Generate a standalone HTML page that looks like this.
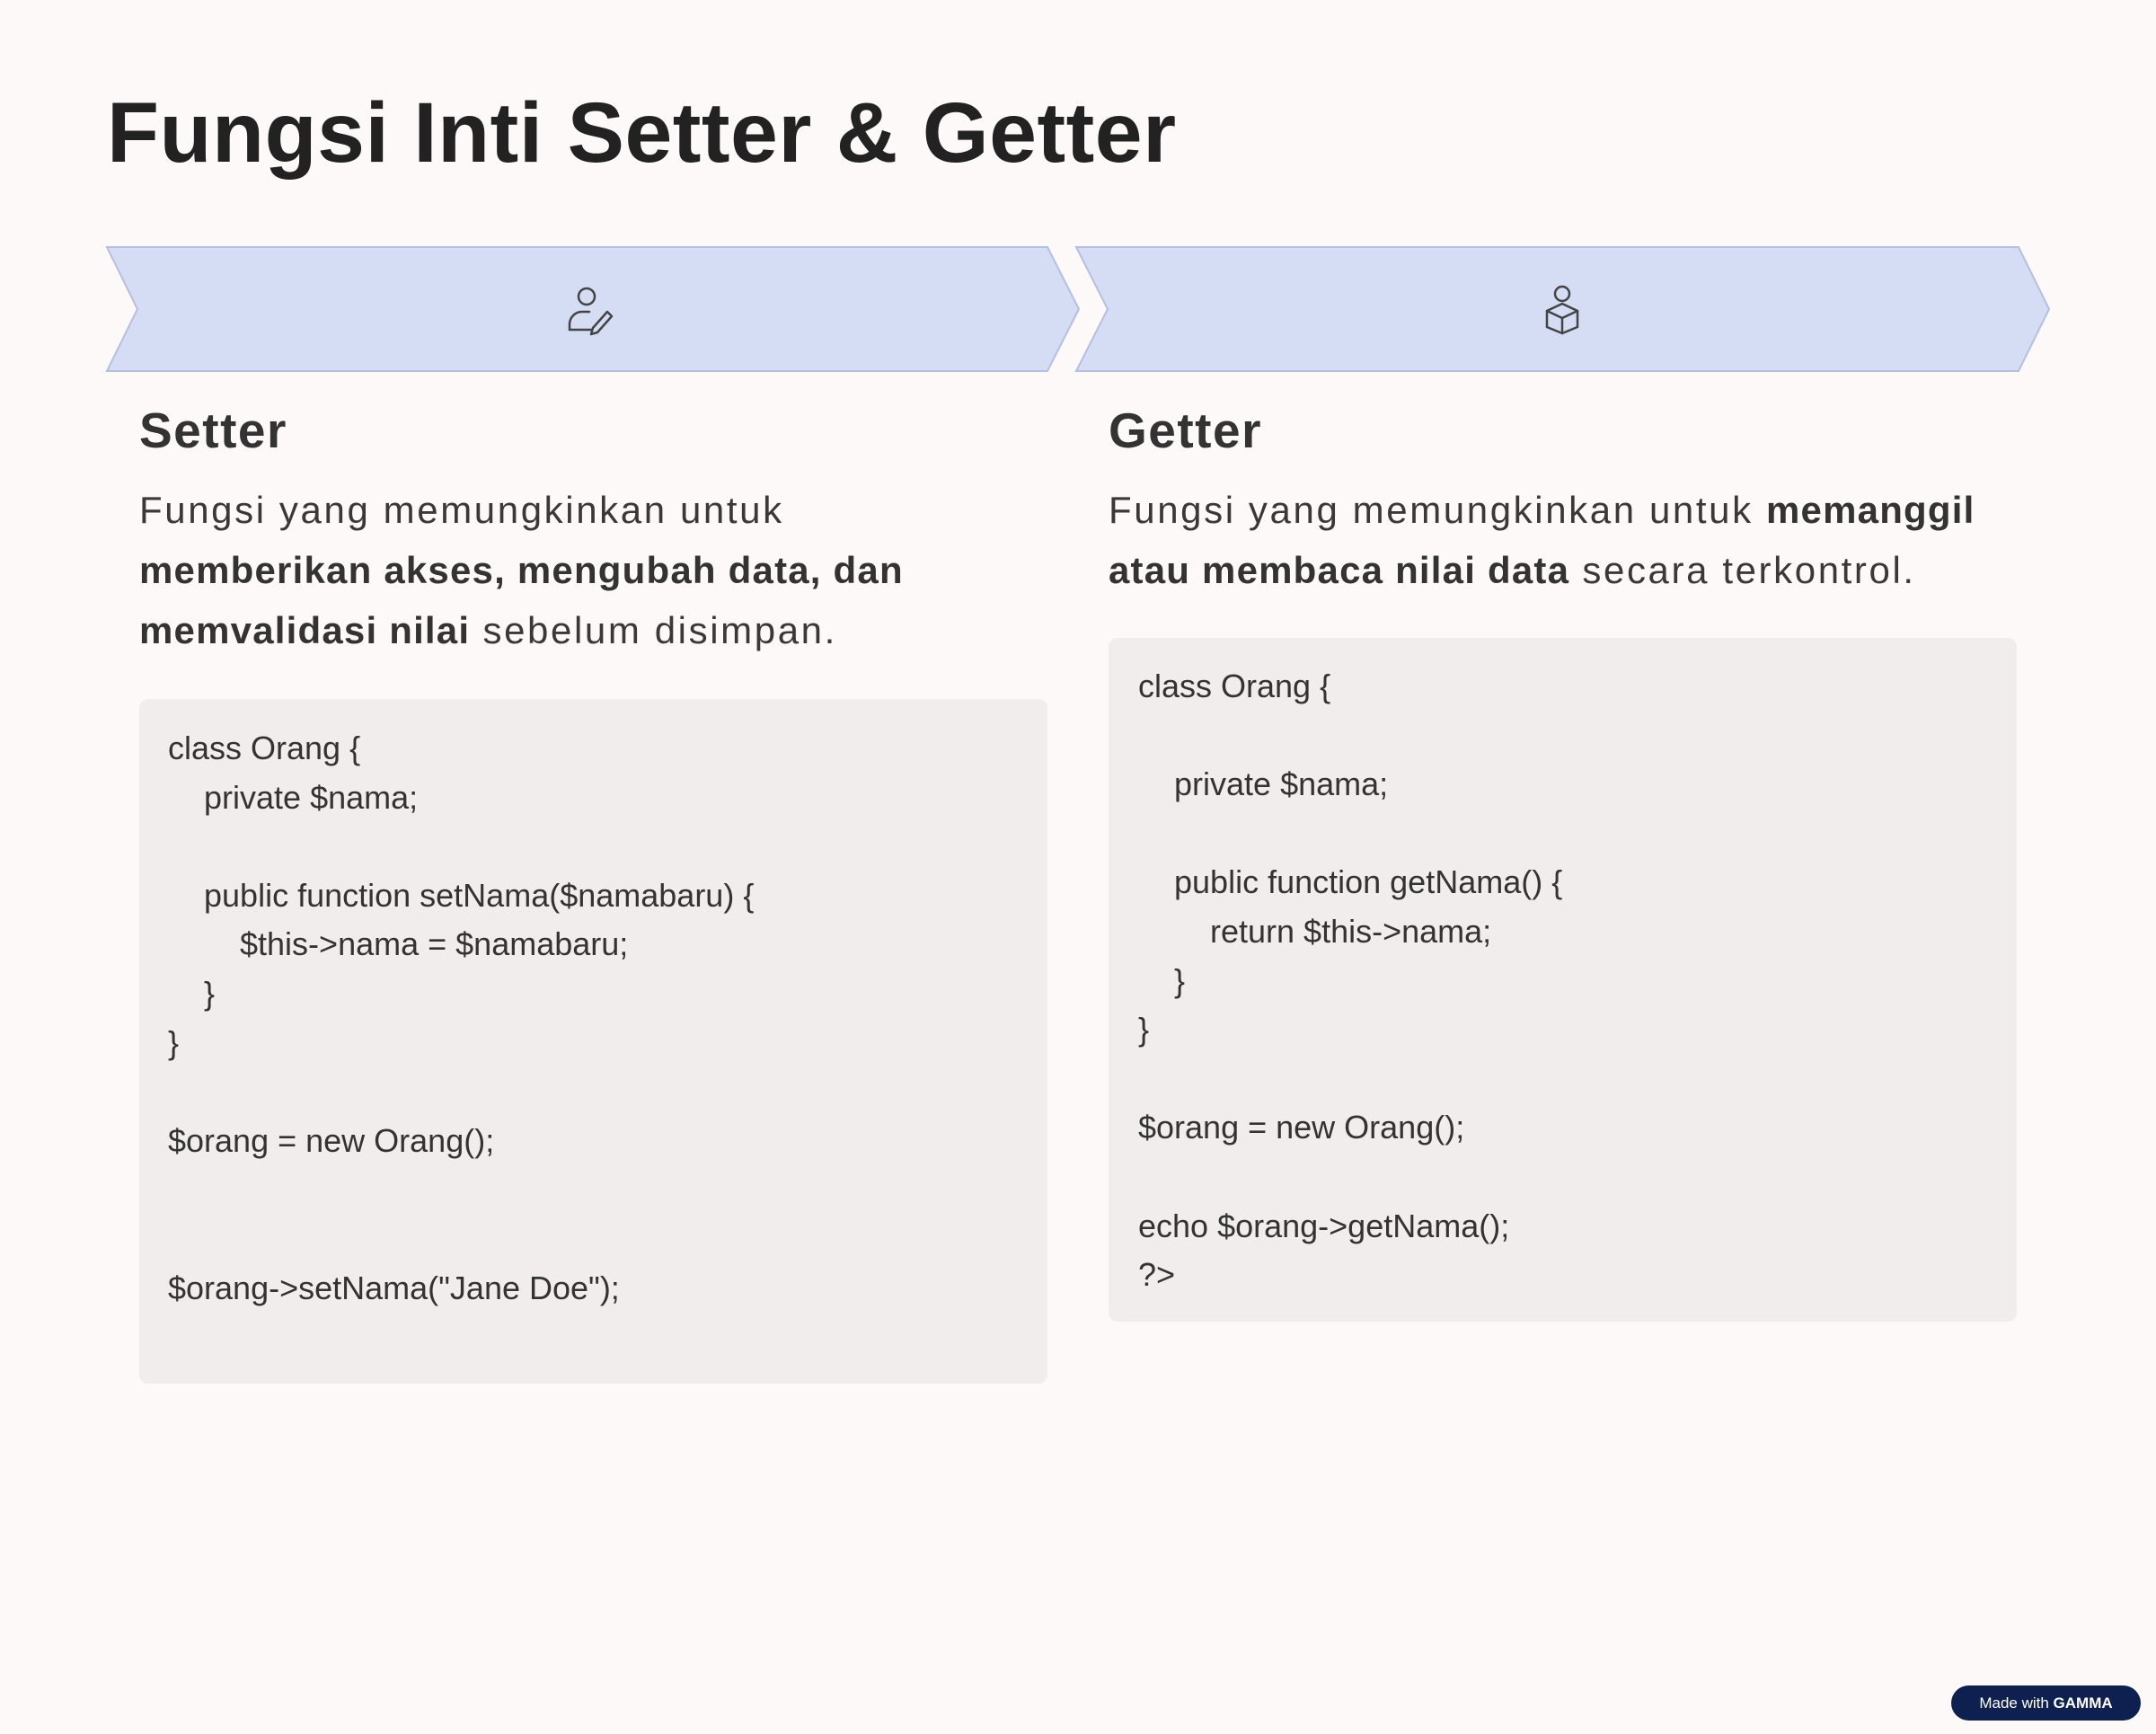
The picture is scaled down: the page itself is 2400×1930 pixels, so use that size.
<!DOCTYPE html>
<html><head><meta charset="utf-8"><style>
body{margin:0;width:2400px;height:1930px;background:#fdf9f8;position:relative;overflow:hidden;font-family:"Liberation Sans",sans-serif;color:#2f2d2d}
.a{position:absolute;white-space:pre}
h1{position:absolute;left:119px;top:93px;margin:0;font-size:95px;line-height:110px;font-weight:bold;color:#222;letter-spacing:0.5px}
.h{font-size:55px;font-weight:bold;line-height:60px;color:#333;letter-spacing:1.5px}
.p{font-size:42px;line-height:67px;color:#3a3838;white-space:normal;letter-spacing:2.6px}
.p b{color:#333;letter-spacing:1.2px}
.box{position:absolute;background:#f0edec;border-radius:10px}
.code{font-size:36px;line-height:54.6px;color:#333}
</style></head><body>
<h1>Fungsi Inti Setter &amp; Getter</h1>
<svg class="a" style="left:0;top:0" width="2400" height="450">
<polygon points="119,275 1166,275 1201,344 1166,413 119,413 153,344" fill="#d5ddf5" stroke="#b3bfe3" stroke-width="2"/>
<polygon points="1198,275 2247,275 2281,344 2247,413 1198,413 1233,344" fill="#d5ddf5" stroke="#b3bfe3" stroke-width="2"/>
<g fill="none" stroke="#444" stroke-width="2.5" stroke-linecap="round" stroke-linejoin="round">
<circle cx="653" cy="330" r="9"/><path d="M634,367 v-6 a14,14 0 0 1 14,-14 h8"/><path d="M634,367 h24"/><path d="M660,365 l16,-18 l5,5 l-16,18 l-7,2 z"/>
<circle cx="1739" cy="327" r="8"/><path d="M1722,346 l17,-8 l17,8 v18 l-17,7 l-17,-7 z"/><path d="M1722,346 l17,8 l17,-8 M1739,354 v17"/>
</g>
</svg>
<div class="a h" style="left:155px;top:449px">Setter</div>
<div class="a p" style="left:155px;top:534px;width:1020px">Fungsi yang memungkinkan untuk<br><b>memberikan akses, mengubah data, dan memvalidasi nilai</b> sebelum disimpan.</div>
<div class="box" style="left:155px;top:778px;width:1011px;height:762px"></div>
<div class="a code" style="left:187px;top:806px">class Orang {
    private $nama;

    public function setNama($namabaru) {
        $this-&gt;nama = $namabaru;
    }
}

$orang = new Orang();


$orang-&gt;setNama("Jane Doe");</div>
<div class="a h" style="left:1234px;top:449px">Getter</div>
<div class="a p" style="left:1234px;top:534px;width:1040px">Fungsi yang memungkinkan untuk <b>memanggil</b><br><b>atau membaca nilai data</b> secara terkontrol.</div>
<div class="box" style="left:1234px;top:710px;width:1011px;height:761px"></div>
<div class="a code" style="left:1267px;top:737px">class Orang {

    private $nama;

    public function getNama() {
        return $this-&gt;nama;
    }
}

$orang = new Orang();

echo $orang-&gt;getNama();
?&gt;</div>
<div class="a" style="left:2172px;top:1876px;width:211px;height:39px;background:#0d2050;border-radius:20px;color:#fff;font-size:17px;line-height:39px;text-align:center">Made with <b>GAMMA</b></div>
</body></html>
